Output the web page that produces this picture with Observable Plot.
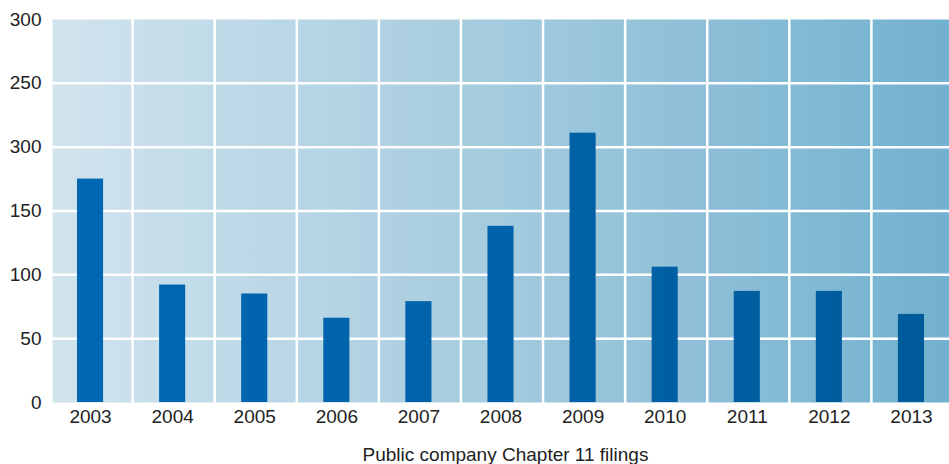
<!DOCTYPE html>
<html>
<head>
<meta charset="utf-8">
<script src="https://cdn.jsdelivr.net/npm/d3@7"></script>
<script src="https://cdn.jsdelivr.net/npm/@observablehq/plot@0.6"></script>
<style>
  html, body { margin: 0; padding: 0; background: #fff; }
  #chart { width: 949px; }
  .caption { font-family: "Liberation Sans", Arial, sans-serif; font-size: 19px; color: #222; text-align: center; padding-left: 62px; margin-top: 4px; }
</style>
</head>
<body>
<div id="chart"></div>
<script>
const years = ["2003","2004","2005","2006","2007","2008","2009","2010","2011","2012","2013"];
const filings = [175, 92, 85, 66, 79, 138, 211, 106, 87, 87, 69];
const yTicks = [0, 50, 100, 150, 200, 250, 300];
const yTickLabels = ["0", "50", "100", "150", "300", "250", "300"];
const caption = "Public company Chapter 11 filings";

const data = years.map((y, i) => ({year: y, value: filings[i]}));
const labelOf = new Map(yTicks.map((t, i) => [t, yTickLabels[i]]));

const W = 949, ML = 52, MR = 0;
const xRange = [49, 952];
const bw = (xRange[1] - xRange[0]) / years.length;

const chart = Plot.plot({
  width: W,
  height: 440,
  marginLeft: ML,
  marginRight: MR,
  marginTop: 19,
  marginBottom: 38,
  style: { fontFamily: "Liberation Sans, Arial, sans-serif", fontSize: "19px", color: "#222", background: "#fff" },
  x: { domain: years, range: xRange, padding: 0, round: false, label: null, tickSize: 0, tickPadding: 7 },
  y: { domain: [0, 300], ticks: yTicks, tickFormat: d => labelOf.get(d), label: null, tickSize: 0, tickPadding: 11 },
  marks: [
    Plot.frame({ fill: "url(#bgGrad)", stroke: "none" }),
    Plot.ruleY(yTicks.filter(t => t > 0 && t < 300), { stroke: "white", strokeWidth: 2.5 }),
    Plot.barY(years.slice(1), { x: d => d, y1: 0, y2: 300, fill: "none", stroke: "white", strokeWidth: 2.5, insetRight: bw - 0.01, dx: 1.5 }),
    Plot.barY(data, { x: "year", y: "value", fill: "url(#barGrad)", insetLeft: 28, insetRight: 28 })
  ]
});

const svg = d3.select(chart);
const defs = svg.insert("defs", ":first-child");
const g = defs.append("linearGradient")
  .attr("id", "bgGrad")
  .attr("gradientUnits", "userSpaceOnUse")
  .attr("x1", ML).attr("x2", W).attr("y1", 0).attr("y2", 0);
g.append("stop").attr("offset", "0%").attr("stop-color", "#d1e4ee");
g.append("stop").attr("offset", "55%").attr("stop-color", "#9fc8dc");
g.append("stop").attr("offset", "100%").attr("stop-color", "#72b1cf");
const b = defs.append("linearGradient")
  .attr("id", "barGrad")
  .attr("gradientUnits", "userSpaceOnUse")
  .attr("x1", ML).attr("x2", W).attr("y1", 0).attr("y2", 0);
b.append("stop").attr("offset", "0%").attr("stop-color", "#0067b2");
b.append("stop").attr("offset", "55%").attr("stop-color", "#0062a8");
b.append("stop").attr("offset", "100%").attr("stop-color", "#005a9a");

document.getElementById("chart").appendChild(chart);
const cap = document.createElement("div");
cap.className = "caption";
cap.textContent = caption;
document.getElementById("chart").appendChild(cap);
</script>
</body>
</html>
